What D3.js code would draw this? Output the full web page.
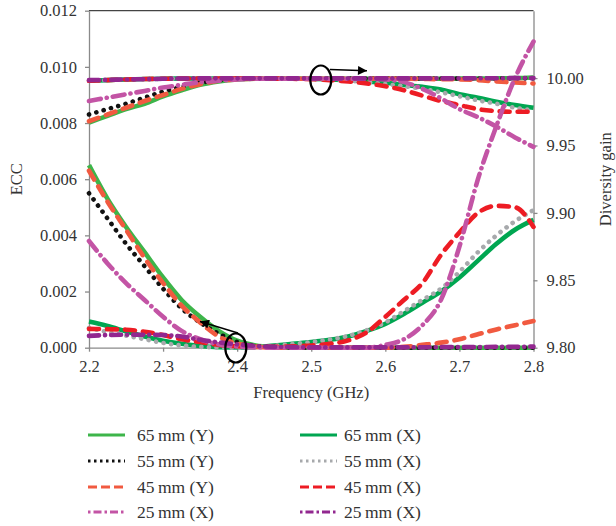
<!DOCTYPE html>
<html>
<head>
<meta charset="utf-8">
<script src="https://cdn.jsdelivr.net/npm/d3@7"></script>
<style>
  body { margin: 0; background: #fff; }
  svg text { font-family: "Liberation Serif", "DejaVu Serif", serif; fill: #333; }
</style>
</head>
<body>
<svg id="chart" width="616" height="526"></svg>
<script>
// frequency points (GHz)
const freq = [2.2, 2.225, 2.25, 2.275, 2.3, 2.325, 2.35, 2.375, 2.4, 2.425, 2.45, 2.475, 2.5,
              2.525, 2.55, 2.575, 2.6, 2.625, 2.65, 2.675, 2.7, 2.725, 2.75, 2.775, 2.8];

// ECC (left axis)
const ecc65Y = [0.0065, 0.0053, 0.0043, 0.0034, 0.0025, 0.0017, 0.0011, 0.0006, 0.00025, 0.00008, 0.00002, 0, 0,
                0, 0, 0, 0, 0, 0, 0, 0, 0, 0, 0, 0];
const ecc65X = [0.00093, 0.00077, 0.00058, 0.0004, 0.00025, 0.00014, 0.00006, 0.00002, 0.00001, 0.00003, 0.00008, 0.00014, 0.0002,
                0.00028, 0.0004, 0.0006, 0.00085, 0.0012, 0.0016, 0.002, 0.0025, 0.0031, 0.0037, 0.0042, 0.00455];
const ecc55Y = [0.0055, 0.0046, 0.0037, 0.0029, 0.0021, 0.0014, 0.0009, 0.0005, 0.0002, 0.00006, 0.00002, 0, 0,
                0, 0, 0, 0, 0, 0, 0, 0, 0, 0, 0, 0];
const ecc55X = [0.0007, 0.00056, 0.00043, 0.0003, 0.00017, 0.00008, 0.00003, 0.00001, 0, 0.00002, 0.00007, 0.00013, 0.0002,
                0.00029, 0.00042, 0.00062, 0.0009, 0.0013, 0.0017, 0.0021, 0.0027, 0.0034, 0.004, 0.0045, 0.0049];
const ecc45Y = [0.0063, 0.0052, 0.0042, 0.0032, 0.0023, 0.0015, 0.0009, 0.0004, 0.00015, 0.00004, 0, 0, 0,
                0, 0, 0, 0, 0.00003, 0.0001, 0.00018, 0.0003, 0.00048, 0.00065, 0.0008, 0.00095];
const ecc45X = [0.00067, 0.00066, 0.00064, 0.00057, 0.00045, 0.0003, 0.0002, 0.0001, 0.00005, 0.00003, 0.00003, 0.00005, 0.00008,
                0.00014, 0.00026, 0.00055, 0.0011, 0.0017, 0.0023, 0.0033, 0.0041, 0.0048, 0.00505, 0.005, 0.0043];
const ecc25Xp = [0.0038, 0.003, 0.0023, 0.0017, 0.0011, 0.0006, 0.0003, 0.00012, 0.00004, 0.00001, 0, 0, 0,
                 0, 0, 0, 0.0001, 0.0003, 0.0008, 0.0017, 0.0036, 0.006, 0.0079, 0.0096, 0.0109];
const ecc25Xv = [0.00042, 0.00045, 0.00046, 0.00046, 0.00045, 0.0004, 0.00028, 0.00019, 0.00012, 0.00006, 0.00003, 0.00002, 0.00001,
                 0.00001, 0.00001, 0.00001, 0.00001, 0.00001, 0.00001, 0.00002, 0.00002, 0.00002, 0.00003, 0.00003, 0.00004];

// diversity gain (right axis)
const dg65Y = [9.967, 9.972, 9.977, 9.981, 9.9865, 9.991, 9.995, 9.9975, 9.999, 9.9995, 9.9995, 9.9995, 9.9995,
               9.9995, 9.9995, 9.9995, 9.9995, 9.9995, 9.9995, 9.9995, 9.9996, 9.9997, 9.9998, 10.0, 10.0005];
const dg65X = [9.998, 9.9985, 9.999, 9.9993, 9.9995, 9.9997, 9.9997, 9.9997, 9.9997, 9.9997, 9.9997, 9.9996, 9.9995,
               9.999, 9.9985, 9.9975, 9.9965, 9.995, 9.9935, 9.9915, 9.988, 9.9855, 9.9825, 9.98, 9.978];
const dg55Y = [9.973, 9.977, 9.981, 9.9855, 9.99, 9.9935, 9.9965, 9.9985, 9.9995, 9.9997, 9.9997, 9.9997, 9.9997,
               9.9997, 9.9997, 9.9997, 9.9997, 9.9997, 9.9997, 9.9997, 9.9997, 9.9997, 9.9998, 9.9998, 9.9998];
const dg55X = [9.998, 9.9985, 9.999, 9.9993, 9.9995, 9.9997, 9.9997, 9.9997, 9.9997, 9.9997, 9.9997, 9.9996, 9.9994,
               9.9988, 9.998, 9.997, 9.9955, 9.994, 9.992, 9.9895, 9.9865, 9.9835, 9.981, 9.978, 9.976];
const dg45Y = [9.968, 9.973, 9.978, 9.983, 9.9875, 9.992, 9.9955, 9.998, 9.999, 9.9995, 9.9995, 9.9995, 9.9995,
               9.9995, 9.9995, 9.9995, 9.9995, 9.9995, 9.9994, 9.9992, 9.999, 9.9985, 9.9975, 9.9967, 9.996];
const dg45X = [9.998, 9.9985, 9.999, 9.9993, 9.9995, 9.9997, 9.9997, 9.9997, 9.9997, 9.9997, 9.9996, 9.9995, 9.9992,
               9.9985, 9.9975, 9.996, 9.994, 9.991, 9.987, 9.983, 9.98, 9.977, 9.9755, 9.975, 9.975];
const dg25Xp = [9.983, 9.9855, 9.988, 9.9905, 9.993, 9.995, 9.997, 9.998, 9.999, 9.9995, 9.9995, 9.9995, 9.9995,
                9.9995, 9.9995, 9.9995, 9.999, 9.997, 9.992, 9.985, 9.977, 9.971, 9.964, 9.956, 9.949];
const dg25Xv = [9.9985, 9.9987, 9.999, 9.9992, 9.9995, 9.9997, 9.9998, 9.9998, 9.9998, 9.9998, 9.9998, 9.9998, 9.9998,
                9.9998, 9.9998, 9.9998, 9.9998, 9.9998, 9.9998, 9.9998, 9.9998, 9.9999, 9.9999, 10.0, 10.0];

const eccTicks = [0, 0.002, 0.004, 0.006, 0.008, 0.010, 0.012];
const dgTicks = [9.80, 9.85, 9.90, 9.95, 10.00];
const freqTicks = [2.2, 2.3, 2.4, 2.5, 2.6, 2.7, 2.8];

const labels = ["65\u2009mm (Y)", "65\u2009mm (X)", "55\u2009mm (Y)", "55\u2009mm (X)",
                "45\u2009mm (Y)", "45\u2009mm (X)", "25\u2009mm (X)", "25\u2009mm (X)"];

// styles per series (same order as labels)
const styles = [
  {color: "#3db54a", dash: null, legendDash: null},
  {color: "#00a651", dash: null, legendDash: null},
  {color: "#111111", dash: "0.1 7.5", legendDash: "2.5 3.5"},
  {color: "#a7a9ac", dash: "0.1 7.5", legendDash: "2.5 3.5"},
  {color: "#f15a40", dash: "10 8", legendDash: "9 4"},
  {color: "#ed1c24", dash: "10 8", legendDash: "9 4"},
  {color: "#c354a5", dash: "12 6 0.1 6", legendDash: "2.5 3 8 3"},
  {color: "#92278f", dash: "10 6 0.1 6", legendDash: "2.5 3 8 3"}
];

const eccSeries = [ecc65Y, ecc65X, ecc55Y, ecc55X, ecc45Y, ecc45X, ecc25Xp, ecc25Xv];
const dgSeries = [dg65Y, dg65X, dg55Y, dg55X, dg45Y, dg45X, dg25Xp, dg25Xv];

const svg = d3.select("#chart");
const plotL = 89, plotR = 533.5, plotT = 10.7, plotB = 347.7;

const x = d3.scaleLinear().domain([2.2, 2.8]).range([plotL, plotR]);
const yL = d3.scaleLinear().domain([0, 0.012]).range([plotB, plotT]);
const yR = d3.scaleLinear().domain([9.80, 10.05]).range([plotB, plotT]);

// frame top
svg.append("line")
    .attr("x1", plotL).attr("x2", plotR)
    .attr("y1", plotT).attr("y2", plotT)
    .attr("stroke", "#444").attr("stroke-width", 1.2);

function styleAxis(g) {
    g.selectAll(".domain").attr("stroke", "#8a8a8a").attr("stroke-width", 1.3);
    g.selectAll(".tick line").attr("stroke", "#8a8a8a").attr("stroke-width", 1.3);
    g.selectAll(".tick text").attr("font-size", 16.5).attr("fill", "#333")
        .attr("font-family", "Liberation Serif, DejaVu Serif, serif");
}

svg.append("g")
    .attr("transform", `translate(${plotL},0)`)
    .call(d3.axisLeft(yL).tickValues(eccTicks).tickFormat(d3.format(".3f"))
        .tickSize(4).tickSizeOuter(0).tickPadding(8))
    .call(styleAxis);

svg.append("g")
    .attr("transform", `translate(${plotR},0)`)
    .call(d3.axisRight(yR).tickValues(dgTicks).tickFormat(d3.format(".2f"))
        .tickSize(4).tickSizeOuter(0).tickPadding(9))
    .call(styleAxis);

svg.append("g")
    .attr("transform", `translate(0,${plotB})`)
    .call(d3.axisBottom(x).tickValues(freqTicks).tickFormat(d3.format(".1f"))
        .tickSize(4).tickSizeOuter(0).tickPadding(9))
    .call(styleAxis);

// axis titles
svg.append("text")
    .attr("transform", `translate(22,${(plotT + plotB) / 2}) rotate(-90)`)
    .attr("text-anchor", "middle").attr("font-size", 16.5).text("ECC");
svg.append("text")
    .attr("transform", `translate(611,${(plotT + plotB) / 2}) rotate(-90)`)
    .attr("text-anchor", "middle").attr("font-size", 16.5).text("Diversity gain");
svg.append("text")
    .attr("x", (plotL + plotR) / 2).attr("y", 398)
    .attr("text-anchor", "middle").attr("font-size", 16.5).text("Frequency (GHz)");

// curves
const lineL = d3.line().x((d, i) => x(freq[i])).y(d => yL(d)).curve(d3.curveMonotoneX);
const lineR = d3.line().x((d, i) => x(freq[i])).y(d => yR(d)).curve(d3.curveMonotoneX);

const drawOrder = [1, 0, 3, 2, 5, 4, 6, 7];
const plot = svg.append("g");

drawOrder.forEach(k => {
    [[dgSeries[k], lineR], [eccSeries[k], lineL]].forEach(([data, gen]) => {
        plot.append("path")
            .attr("d", gen(data))
            .attr("fill", "none")
            .attr("stroke", styles[k].color)
            .attr("stroke-width", 4.6)
            .attr("stroke-linecap", styles[k].dash ? "round" : "butt")
            .attr("stroke-dasharray", styles[k].dash);
    });
});

// annotations
svg.append("defs").append("marker")
    .attr("id", "arrow")
    .attr("viewBox", "0 0 10 10")
    .attr("refX", 10).attr("refY", 5)
    .attr("markerWidth", 10).attr("markerHeight", 9)
    .attr("markerUnits", "userSpaceOnUse")
    .attr("orient", "auto")
    .append("path").attr("d", "M0,0 L10,5 L0,10 Z").attr("fill", "#000");

svg.append("ellipse")
    .attr("cx", 320.8).attr("cy", 80).attr("rx", 10.5).attr("ry", 14.5)
    .attr("fill", "none").attr("stroke", "#000").attr("stroke-width", 2.2);
svg.append("line")
    .attr("x1", 330).attr("y1", 69.5).attr("x2", 367).attr("y2", 70.8)
    .attr("stroke", "#000").attr("stroke-width", 1.4)
    .attr("marker-end", "url(#arrow)");

svg.append("ellipse")
    .attr("cx", 235.8).attr("cy", 348).attr("rx", 10.5).attr("ry", 14.5)
    .attr("fill", "none").attr("stroke", "#000").attr("stroke-width", 2.2);
svg.append("line")
    .attr("x1", 238).attr("y1", 333).attr("x2", 200).attr("y2", 321.5)
    .attr("stroke", "#000").attr("stroke-width", 1.4)
    .attr("marker-end", "url(#arrow)");

// legend: two columns, four rows
const rowY = [435, 461, 487, 512];
const colX = [88, 300];
labels.forEach((lab, k) => {
    const col = k % 2, row = Math.floor(k / 2);
    const g = svg.append("g").attr("transform", `translate(${colX[col]},${rowY[row]})`);
    g.append("line")
        .attr("x1", 0).attr("x2", 37).attr("y1", 0).attr("y2", 0)
        .attr("stroke", styles[k].color).attr("stroke-width", 3)
        .attr("stroke-dasharray", styles[k].legendDash);
    g.append("text")
        .attr("x", col === 0 ? 49 : 44).attr("y", 5.5)
        .attr("font-size", 17.5).text(lab);
});
</script>
</body>
</html>
